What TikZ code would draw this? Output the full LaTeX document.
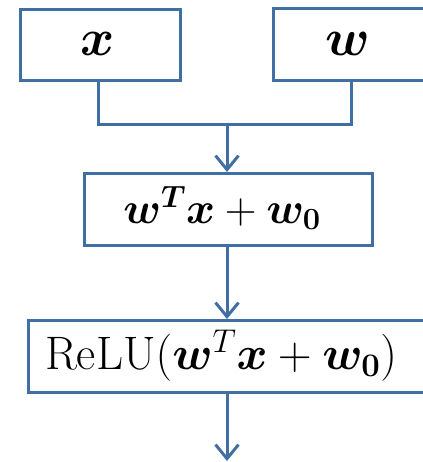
\RequirePackage{fix-cm}
\documentclass[tikz,border=0pt]{standalone}
\usepackage{amsmath}
\usepackage{bm}
\usetikzlibrary{arrows.meta}
\definecolor{lineblue}{RGB}{65,110,163}
\begin{document}
\begin{tikzpicture}[x=1pt,y=-1pt,
  box/.style={draw=lineblue, line width=3pt, fill=white, inner sep=0pt, anchor=north west},
  conn/.style={draw=lineblue, line width=3pt},
  arr/.style={conn, -{Straight Barb[length=14pt,width=23pt,line width=3pt]}}]
\useasboundingbox (0,0) rectangle (422,462);
% boxes
\node[box, minimum width=160, minimum height=71] (bx) at (19,8) {};
\node at (98,44) {\fontsize{52}{62}\selectfont$\bm{x}$};
\node[box, minimum width=153, minimum height=72] (bw) at (272,7) {};
\node at (348,44) {\fontsize{52}{62}\selectfont$\bm{w}$};
\node[box, minimum width=288, minimum height=72] (b2) at (83,172) {};
\node at (222,208) {\fontsize{44}{52}\selectfont$\bm{w}^{\bm{T}}\bm{x}+\bm{w}_{\bm{0}}$};
\node[box, minimum width=400, minimum height=72] (b3) at (27,319) {};
\node at (221,356) {\fontsize{47}{56}\selectfont ReLU$(\bm{w}^{T}\bm{x}+\bm{w}_{\bm{0}})$};
% connectors
\coordinate (jx) at (98,125);
\coordinate (jw) at (351,125);
\coordinate (j) at (227,125);
\coordinate (out) at (227,461);
\draw[conn, line join=miter] (bx.south -| jx) -- (jx) -- (jw) -- (bw.south -| jw);
\draw[arr] (j) -- (b2.north -| j);
\draw[arr] (b2.south -| j) -- (b3.north -| j);
\draw[arr] (b3.south -| j) -- (out);
\end{tikzpicture}
\end{document}
